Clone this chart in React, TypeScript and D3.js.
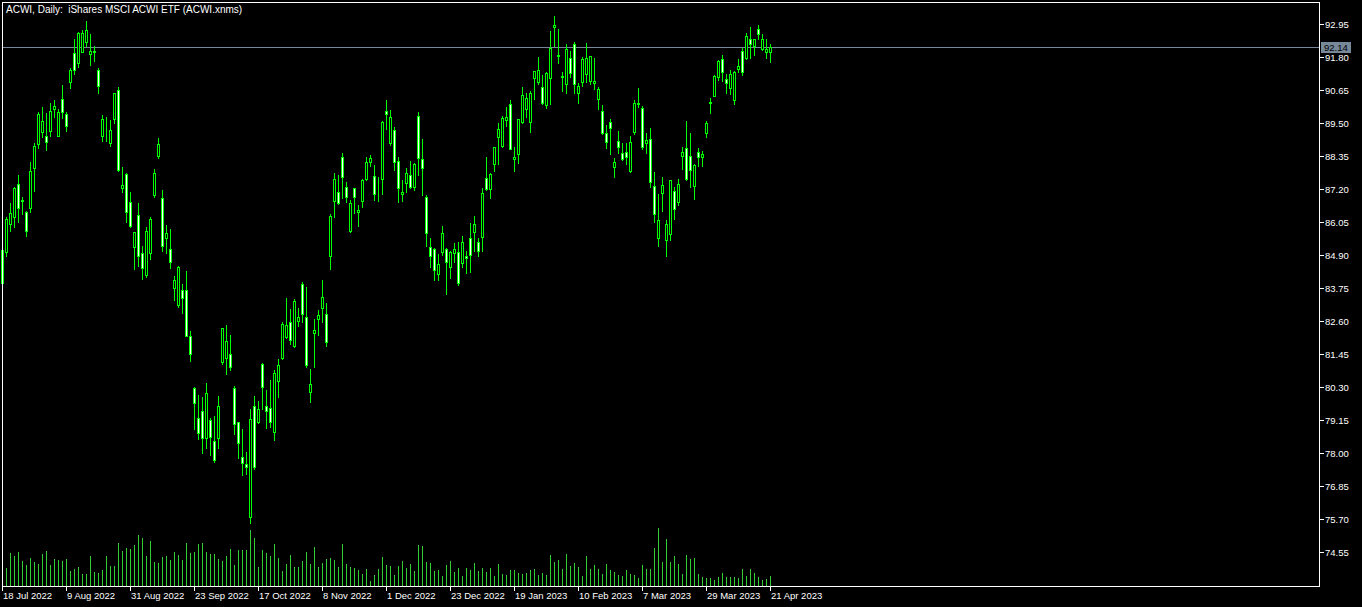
import { useEffect, useRef } from "react";
import * as d3 from "d3";

const title = "ACWI, Daily:  iShares MSCI ACWI ETF (ACWI.xnms)";
const lastPrice = 92.14;

const opens = [
  83.92, 84.99, 85.97, 86.21, 87.36, 86.79, 86.41, 86.53, 87.92, 88.76,
  89.2, 89.05, 89.23, 90.0, 89.06, 90.33, 89.81, 90.94, 91.93, 91.6,
  91.98, 92.31, 91.89, 91.98, 91.35, 89.06, 89.05, 88.81, 89.63, 90.65,
  87.22, 87.72, 86.74, 85.19, 86.29, 84.96, 84.2, 84.96, 86.99, 88.36,
  86.88, 85.5, 85.1, 83.76, 83.16, 83.68, 83.68, 82.08, 80.26, 79.21,
  79.46, 78.53, 79.15, 78.42, 78.53, 81.18, 81.3, 81.44, 80.26, 79.07,
  77.85, 77.61, 75.76, 79.65, 79.07, 81.09, 79.64, 79.56, 78.72, 80.52,
  81.3, 82.05, 82.56, 81.74, 82.61, 83.88, 82.73, 80.12, 82.17, 82.66,
  83.04, 82.84, 84.88, 86.79, 87.09, 88.3, 87.26, 85.75, 87.22, 86.41,
  86.78, 87.54, 88.13, 87.66, 87.2, 87.54, 89.93, 88.81, 89.26, 88.18,
  87.02, 87.42, 87.69, 87.28, 89.74, 88.25, 86.91, 85.17, 85.1, 84.23,
  85.02, 85.1, 84.49, 84.96, 85.02, 84.61, 84.85, 85.48, 85.71, 85.34,
  85.54, 87.57, 87.19, 88.06, 89.0, 88.71, 89.6, 90.15, 88.25, 88.41,
  89.55, 89.98, 89.55, 91.06, 90.94, 90.74, 90.13, 91.06, 92.83, 91.82,
  91.09, 90.86, 91.75, 92.25, 90.56, 90.94, 91.2, 90.97, 90.88, 90.33,
  89.92, 89.14, 89.52, 87.98, 88.88, 88.44, 88.5, 87.83, 89.2, 90.16,
  90.01, 88.81, 88.93, 87.3, 85.5, 87.05, 85.42, 85.62, 87.13, 86.76,
  88.36, 88.62, 88.36, 87.32, 88.48, 88.3, 89.14, 90.21, 90.45, 91.11,
  91.72, 91.02, 90.71, 90.3, 91.38, 92.01, 91.78, 92.43, 92.19, 92.77,
  92.07, 91.96, 91.98,
];

const highs = [
  85.07, 86.24, 86.7, 87.28, 87.69, 86.93, 86.43, 88.15, 88.79, 89.89,
  90.07, 89.86, 90.19, 90.3, 89.98, 90.82, 89.89, 91.43, 92.43, 92.68,
  92.74, 93.05, 92.6, 92.18, 91.43, 89.78, 89.7, 89.6, 90.56, 90.74,
  87.98, 87.75, 87.09, 85.7, 86.7, 85.21, 85.87, 86.21, 87.9, 88.97,
  87.17, 85.95, 85.81, 84.17, 84.52, 83.89, 84.34, 82.25, 80.29, 80.02,
  79.94, 80.43, 79.21, 79.29, 79.99, 82.36, 82.46, 82.11, 80.34, 79.08,
  78.84, 78.02, 79.53, 79.99, 79.81, 81.15, 80.2, 80.54, 80.89, 81.27,
  82.56, 83.39, 83.02, 83.36, 83.04, 83.95, 83.77, 80.92, 82.67, 82.98,
  84.03, 83.22, 86.33, 87.75, 87.69, 88.47, 87.43, 86.82, 87.23, 86.64,
  87.54, 88.3, 88.38, 88.04, 87.61, 89.56, 90.3, 89.95, 89.35, 88.33,
  87.51, 87.92, 88.18, 88.12, 89.87, 88.94, 86.99, 85.48, 85.13, 84.92,
  85.91, 85.15, 85.05, 85.31, 85.34, 85.56, 85.04, 86.03, 86.26, 85.48,
  87.22, 88.33, 87.75, 88.66, 89.51, 89.74, 90.07, 90.3, 88.65, 89.65,
  90.77, 90.54, 90.62, 91.32, 91.81, 91.17, 91.29, 92.71, 93.23, 92.78,
  91.29, 92.25, 92.01, 92.33, 90.88, 91.79, 92.3, 91.84, 91.78, 90.77,
  90.13, 89.43, 89.64, 88.29, 89.22, 88.79, 88.79, 89.05, 90.3, 90.73,
  90.09, 89.16, 89.34, 87.8, 87.03, 87.61, 86.12, 87.52, 87.28, 87.55,
  88.67, 89.57, 89.16, 88.07, 88.64, 88.52, 89.57, 90.36, 91.16, 91.7,
  91.87, 91.2, 91.35, 91.32, 91.73, 92.1, 92.63, 92.83, 92.44, 92.92,
  92.59, 92.43, 92.25,
];

const lows = [
  83.92, 84.88, 85.75, 85.89, 86.06, 86.33, 85.57, 86.41, 87.14, 88.62,
  89.0, 88.56, 89.06, 89.7, 89.04, 89.66, 89.23, 90.71, 91.21, 91.46,
  91.96, 92.19, 91.52, 91.67, 90.56, 88.88, 88.88, 88.71, 89.49, 87.84,
  87.11, 86.04, 85.89, 84.41, 84.53, 84.06, 84.14, 84.76, 86.93, 88.29,
  85.05, 84.96, 84.44, 83.33, 83.1, 82.89, 82.07, 81.22, 78.84, 78.49,
  78.01, 78.19, 77.93, 77.7, 78.19, 81.1, 80.75, 80.89, 78.65, 77.84,
  77.23, 77.27, 75.57, 77.43, 79.05, 79.52, 78.88, 78.92, 78.45, 79.96,
  81.28, 82.0, 81.8, 81.7, 82.44, 82.56, 81.01, 79.79, 81.01, 82.11,
  82.58, 81.74, 84.41, 86.24, 86.68, 86.88, 86.76, 85.71, 86.37, 85.91,
  86.56, 87.52, 88.01, 86.82, 86.78, 87.02, 89.28, 88.73, 87.86, 86.76,
  86.78, 87.11, 87.22, 87.17, 87.69, 86.99, 85.22, 84.49, 84.03, 84.03,
  84.9, 83.54, 84.11, 84.67, 83.86, 84.49, 84.26, 84.32, 85.04, 84.88,
  85.05, 87.17, 86.88, 87.84, 88.06, 88.67, 89.41, 88.58, 87.84, 88.12,
  89.49, 89.72, 89.2, 90.34, 90.86, 90.16, 90.03, 90.16, 92.18, 91.6,
  90.63, 90.56, 91.11, 90.56, 90.21, 90.79, 90.94, 90.86, 90.68, 89.99,
  89.12, 88.62, 88.42, 87.61, 88.47, 88.21, 88.07, 87.78, 89.12, 90.05,
  88.58, 88.47, 87.28, 86.06, 85.21, 86.43, 84.88, 85.42, 86.15, 86.64,
  87.9, 87.52, 87.28, 86.85, 88.0, 88.01, 89.02, 89.86, 90.43, 91.0,
  90.97, 90.54, 90.51, 90.16, 91.27, 91.17, 91.73, 91.78, 91.87, 92.43,
  92.04, 91.78, 91.64,
];

const closes = [
  85.07, 86.15, 86.35, 87.25, 86.53, 86.8, 85.75, 87.83, 88.7, 89.81,
  89.57, 88.83, 89.93, 90.09, 89.87, 89.87, 89.41, 91.35, 91.35, 92.63,
  92.63, 92.74, 92.01, 92.0, 90.8, 89.64, 89.06, 89.26, 90.54, 87.86,
  87.34, 86.41, 85.92, 85.69, 84.88, 84.46, 85.74, 86.14, 87.75, 88.76,
  85.22, 85.66, 84.67, 84.03, 84.47, 83.41, 82.09, 81.45, 79.73, 78.71,
  78.51, 80.08, 78.57, 77.76, 79.64, 82.35, 81.9, 81.01, 79.0, 78.34,
  77.64, 77.5, 79.17, 77.52, 79.53, 80.29, 79.47, 79.09, 80.78, 81.07,
  82.49, 82.46, 81.94, 83.3, 82.73, 82.84, 81.07, 80.39, 82.29, 82.81,
  83.43, 81.86, 86.26, 87.54, 86.7, 87.61, 86.93, 86.7, 86.93, 86.47,
  87.51, 88.13, 88.27, 87.02, 87.21, 89.55, 89.8, 89.7, 88.15, 87.22,
  87.09, 87.75, 87.28, 88.07, 88.27, 87.92, 85.68, 84.88, 84.38, 84.58,
  85.66, 84.65, 84.99, 85.1, 83.94, 85.34, 84.81, 84.9, 85.97, 85.05,
  87.05, 87.2, 87.71, 88.65, 89.28, 89.68, 89.7, 88.59, 88.3, 89.64,
  90.48, 90.36, 90.54, 91.31, 91.35, 90.21, 91.23, 92.1, 92.92, 91.86,
  91.13, 92.08, 91.25, 90.86, 90.79, 91.73, 91.75, 91.83, 90.96, 90.68,
  89.14, 88.85, 89.32, 88.13, 88.65, 88.25, 88.33, 88.83, 90.19, 90.19,
  88.67, 88.91, 87.45, 86.32, 86.12, 87.34, 85.98, 87.51, 86.49, 87.36,
  88.48, 87.54, 87.86, 88.04, 88.3, 88.42, 89.49, 90.23, 91.15, 91.67,
  91.29, 90.88, 91.21, 91.29, 91.49, 91.29, 92.53, 92.25, 92.43, 92.6,
  92.43, 92.08, 92.14,
];

// volume in millions of shares
const volumes = [
  1.8, 1.8, 3.3, 3.0, 3.4, 2.5, 2.1, 2.8, 2.4, 2.2,
  3.2, 3.5, 2.1, 2.7, 2.57, 2.5, 2.7, 1.5, 1.7, 1.9,
  1.2, 1.2, 3.0, 1.4, 1.3, 1.6, 3.0, 2.0, 2.0, 4.3,
  3.5, 3.8, 3.7, 4.1, 5.1, 4.8, 3.0, 4.5, 2.4, 2.3,
  2.9, 3.0, 2.6, 3.4, 3.1, 2.6, 4.3, 3.3, 3.4, 4.2,
  4.3, 3.4, 3.2, 3.2, 2.7, 2.5, 3.0, 3.7, 2.1, 3.6,
  3.6, 3.6, 5.6, 4.8, 1.9, 3.6, 3.3, 3.0, 4.2, 2.8,
  1.5, 2.2, 3.1, 1.9, 1.9, 2.5, 3.4, 2.2, 3.9, 1.9,
  2.3, 2.7, 2.8, 2.6, 1.9, 4.2, 2.2, 1.9, 1.8, 1.6,
  1.2, 1.7, 0.5, 1.1, 1.7, 2.9, 2.1, 2.0, 1.1, 2.0,
  2.5, 1.8, 2.2, 1.5, 4.1, 4.0, 2.4, 2.3, 1.5, 1.6,
  1.0, 2.1, 2.5, 1.4, 1.8, 1.0, 1.8, 1.6, 2.3, 1.5,
  1.8, 1.4, 1.8, 1.0, 2.2, 1.2, 1.1, 1.6, 1.6, 1.3,
  1.2, 1.3, 1.6, 1.7, 1.1, 1.3, 1.1, 3.1, 2.4, 2.6,
  1.7, 3.2, 2.0, 2.3, 1.9, 1.0, 3.0, 1.7, 2.1, 1.7,
  1.2, 2.2, 1.6, 1.4, 1.1, 1.0, 1.6, 1.2, 1.1, 0.8,
  2.1, 1.7, 1.7, 3.8, 5.8, 2.4, 4.7, 2.4, 3.0, 2.2,
  1.2, 3.1, 2.7, 2.8, 1.2, 0.9, 0.8, 0.8, 0.6, 0.9,
  1.3, 0.9, 0.9, 0.9, 0.8, 1.7, 1.0, 1.7, 1.3, 0.9,
  0.6, 0.7, 1.0,
];

const priceTicks = [
  92.95, 91.8, 90.65, 89.5, 88.35, 87.2, 86.05, 84.9, 83.75, 82.6, 81.45,
  80.3, 79.15, 78.0, 76.85, 75.7, 74.55,
];

const dateTickBars = [0, 16, 32, 48, 64, 80, 96, 112, 128, 144, 160, 176, 192];
const dateTickLabels = [
  "18 Jul 2022", "9 Aug 2022", "31 Aug 2022", "23 Sep 2022", "17 Oct 2022",
  "8 Nov 2022", "1 Dec 2022", "23 Dec 2022", "19 Jan 2023", "10 Feb 2023",
  "7 Mar 2023", "29 Mar 2023", "21 Apr 2023",
];

const W = 1362,
  H = 607,
  frameLeft = 2,
  frameRight = 1319,
  frameTop = 2,
  frameBottom = 586,
  candleColor = "#00ff00",
  volumeColor = "#32cd32",
  priceLineColor = "#778899",
  font = "'Liberation Sans', Arial, sans-serif";

const crisp = (v: number) => Math.round(v) + 0.5;

export default function App() {
  const ref = useRef<SVGSVGElement>(null);

  useEffect(() => {
    document.body.style.margin = "0";
    document.body.style.background = "#000";
    document.body.style.overflow = "hidden";

    const svg = d3.select(ref.current);
    svg.selectAll("*").remove();

    const bars = d3.range(closes.length);
    const x = d3.scaleLinear().domain([0, 192]).range([2, 770]);
    const y = d3.scaleLinear().domain([74.55, 92.95]).range([552, 24]);
    const yVol = d3.scaleLinear().domain([0, 5.8]).range([frameBottom, 528]);

    svg.append("rect").attr("width", W).attr("height", H).attr("fill", "#000");

    // last price line
    svg
      .append("line")
      .attr("x1", frameLeft)
      .attr("x2", frameRight)
      .attr("y1", crisp(y(lastPrice)))
      .attr("y2", crisp(y(lastPrice)))
      .attr("stroke", priceLineColor);

    // volumes
    svg
      .append("g")
      .selectAll("line")
      .data(bars)
      .enter()
      .append("line")
      .attr("x1", (i) => x(i) + 0.5)
      .attr("x2", (i) => x(i) + 0.5)
      .attr("y1", frameBottom)
      .attr("y2", (i) => Math.round(yVol(volumes[i])))
      .attr("stroke", volumeColor);

    const candles = svg.append("g").selectAll("g").data(bars).enter().append("g");

    candles
      .append("line")
      .attr("x1", (i) => x(i) + 0.5)
      .attr("x2", (i) => x(i) + 0.5)
      .attr("y1", (i) => Math.round(y(highs[i])))
      .attr("y2", (i) => Math.round(y(lows[i])) + 1)
      .attr("stroke", candleColor);

    candles
      .append("rect")
      .attr("x", (i) => x(i) - 0.5)
      .attr("width", 2)
      .attr("y", (i) => crisp(y(Math.max(opens[i], closes[i]))))
      .attr("height", (i) =>
        Math.max(0, Math.round(y(Math.min(opens[i], closes[i]))) - Math.round(y(Math.max(opens[i], closes[i]))))
      )
      .attr("fill", (i) => (closes[i] >= opens[i] ? "#000" : "#fff"))
      .attr("stroke", candleColor);

    // frame
    svg
      .append("rect")
      .attr("x", frameLeft + 0.5)
      .attr("y", frameTop + 0.5)
      .attr("width", frameRight - frameLeft)
      .attr("height", frameBottom - frameTop)
      .attr("fill", "none")
      .attr("stroke", "#fff");

    // price axis
    const pAxis = svg.append("g").selectAll("g").data(priceTicks).enter().append("g");
    pAxis
      .append("line")
      .attr("x1", frameRight + 1)
      .attr("x2", frameRight + 5)
      .attr("y1", (d) => crisp(y(d)))
      .attr("y2", (d) => crisp(y(d)))
      .attr("stroke", "#fff");
    pAxis
      .append("text")
      .attr("x", frameRight + 6)
      .attr("y", (d) => y(d) + 4)
      .attr("fill", "#fff")
      .attr("font-family", font)
      .attr("font-size", 9.5)
      .text((d) => d.toFixed(2));

    // last price tag
    const py = y(lastPrice);
    svg
      .append("rect")
      .attr("x", frameRight + 2)
      .attr("y", Math.round(py) - 5)
      .attr("width", 30)
      .attr("height", 11)
      .attr("fill", priceLineColor);
    svg
      .append("text")
      .attr("x", frameRight + 5)
      .attr("y", py + 4)
      .attr("fill", "#000")
      .attr("font-family", font)
      .attr("font-size", 9.5)
      .text(lastPrice.toFixed(2));

    // date axis
    const dAxis = svg.append("g").selectAll("g").data(dateTickBars).enter().append("g");
    dAxis
      .append("line")
      .attr("x1", (d) => x(d) + 0.5)
      .attr("x2", (d) => x(d) + 0.5)
      .attr("y1", frameBottom)
      .attr("y2", frameBottom + 5)
      .attr("stroke", "#fff");
    dAxis
      .append("text")
      .attr("x", (d) => x(d) + 1)
      .attr("y", 599)
      .attr("fill", "#fff")
      .attr("font-family", font)
      .attr("font-size", 9.5)
      .text((d, k) => dateTickLabels[k]);

    svg
      .append("text")
      .attr("x", 6)
      .attr("y", 13)
      .attr("fill", "#fff")
      .attr("font-family", font)
      .attr("font-size", 10)
      .style("white-space", "pre")
      .text(title);
  }, []);

  return (
    <svg
      ref={ref}
      width={W}
      height={H}
      style={{ position: "absolute", left: 0, top: 0, display: "block", background: "#000" }}
    />
  );
}
